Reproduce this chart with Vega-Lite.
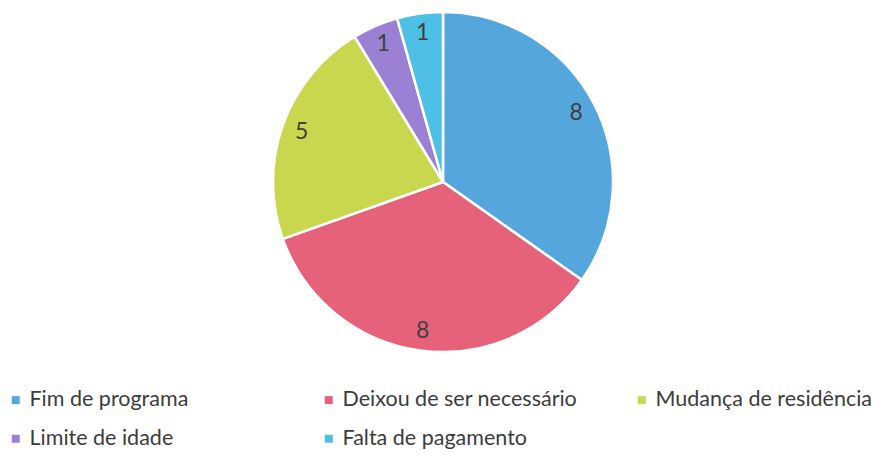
{
  "$schema": "https://vega.github.io/schema/vega-lite/v6.json",
  "width": 886,
  "height": 364,
  "autosize": "none",
  "padding": {"left": 0, "top": 0, "right": 0, "bottom": 100},
  "background": "white",
  "data": {"values": [
    {"motivo": "Fim de programa", "n": 8, "i": 1},
    {"motivo": "Deixou de ser necessário", "n": 8, "i": 2},
    {"motivo": "Mudança de residência", "n": 5, "i": 3},
    {"motivo": "Limite de idade", "n": 1, "i": 4},
    {"motivo": "Falta de pagamento", "n": 1, "i": 5}
  ]},
  "encoding": {
    "theta": {"field": "n", "type": "quantitative", "stack": true},
    "order": {"field": "i", "type": "quantitative"},
    "color": {
      "field": "motivo", "type": "nominal",
      "scale": {
        "domain": ["Fim de programa", "Deixou de ser necessário", "Mudança de residência", "Limite de idade", "Falta de pagamento"],
        "range": ["#55a6dd", "#e6627a", "#c8d74d", "#9c80d3", "#4ebfe5"]
      },
      "legend": {
        "title": null,
        "orient": "none",
        "legendX": 5,
        "legendY": 389,
        "direction": "horizontal",
        "columns": 3,
        "gridAlign": "all",
        "columnPadding": 53,
        "rowPadding": 16,
        "symbolType": "square",
        "symbolSize": 64,
        "symbolStrokeWidth": 0,
        "labelOffset": 3,
        "labelFont": "Lato",
        "labelFontSize": 21.5,
        "labelColor": "#3c3c3c",
        "labelLimit": 400
      }
    }
  },
  "layer": [
    {"mark": {"type": "arc", "outerRadius": 170, "stroke": "white", "strokeWidth": 2.5}},
    {
      "mark": {"type": "text", "radius": 150, "font": "Lato", "fontSize": 23, "color": "#404040"},
      "encoding": {
        "text": {"field": "n", "type": "quantitative"},
        "color": {"value": "#404040"}
      }
    }
  ]
}
